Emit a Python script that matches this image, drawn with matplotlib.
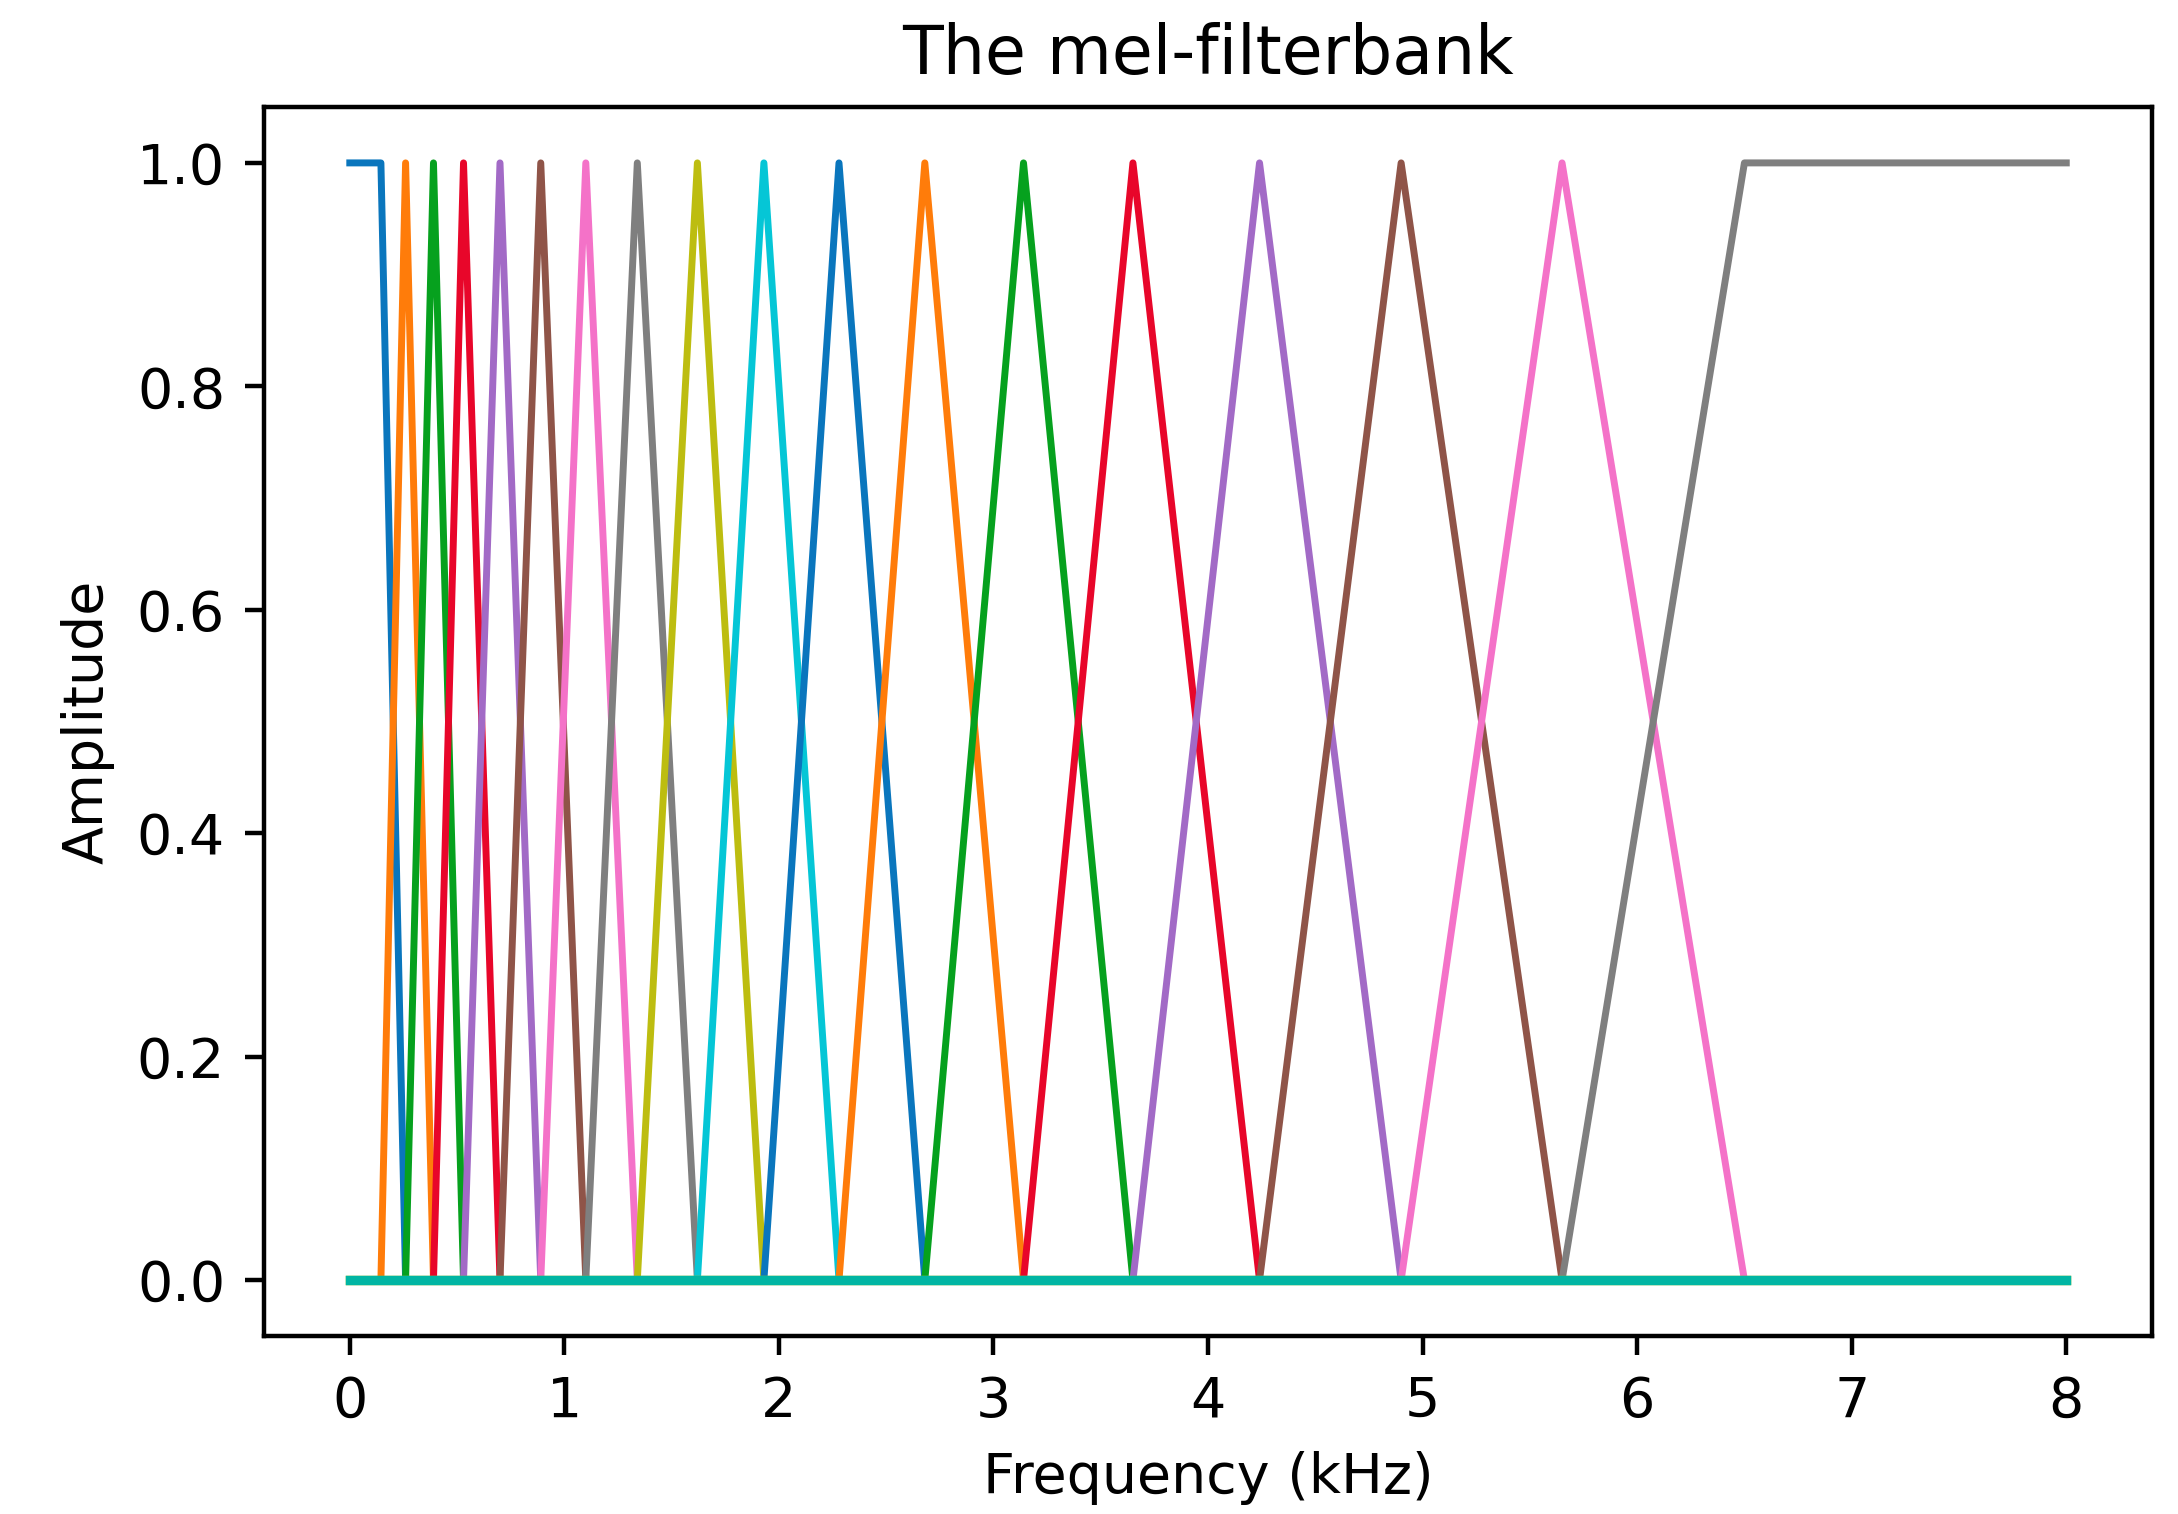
import matplotlib
matplotlib.use("Agg")
import matplotlib.pyplot as plt

# corner frequencies of the mel bands (kHz)
band_edges_khz = [0.145, 0.26, 0.39, 0.53, 0.70, 0.89, 1.10, 1.34, 1.62,
                  1.93, 2.28, 2.68, 3.14, 3.65, 4.24, 4.90, 5.65, 6.50]
freq_max_khz = 8.0
# two unused bands stay at zero over the whole range
n_empty_bands = 2

band_colors = ['#0a76bd', '#ff7c0a', '#06a11e', '#e8062a', '#a26ac6',
               '#8f5448', '#f472c8', '#7f7f7f', '#bdbd10', '#05c6d6']
empty_colors = ['#bdbd10', '#00b5a3']

fig = plt.figure(figsize=(2178 / 400, 1514 / 400), dpi=400)
ax = fig.add_axes([0.1212, 0.1176, 0.8669, 0.8117])

n = len(band_edges_khz)
for k in range(n):
    e = band_edges_khz
    if k == 0:
        xs = [0.0, e[0], e[1], freq_max_khz]
        ys = [1, 1, 0, 0]
    elif k == n - 1:
        xs = [0.0, e[k - 1], e[k], freq_max_khz]
        ys = [0, 0, 1, 1]
    else:
        xs = [0.0, e[k - 1], e[k], e[k + 1], freq_max_khz]
        ys = [0, 0, 1, 0, 0]
    ax.plot(xs, ys, color=band_colors[k % len(band_colors)], linewidth=1.25)

for j in range(n_empty_bands):
    ax.plot([0.0, freq_max_khz], [0, 0], color=empty_colors[j], linewidth=1.7)

ax.set_xlim(-0.4, 8.4)
ax.set_ylim(-0.05, 1.05)
ax.set_xticks(range(0, 9))
ax.set_yticks([0.0, 0.2, 0.4, 0.6, 0.8, 1.0])
ax.set_title('The mel-filterbank')
ax.set_xlabel('Frequency (kHz)')
ax.set_ylabel('Amplitude')

fig.savefig('out.png', dpi=400)
